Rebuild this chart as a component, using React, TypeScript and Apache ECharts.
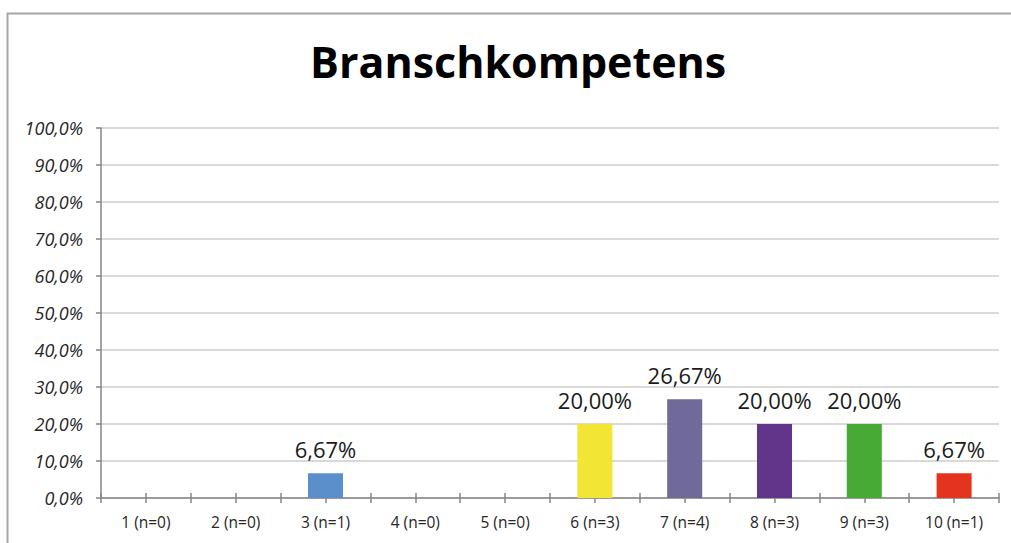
import React, { useEffect, useRef } from "react";
import * as echarts from "echarts";

const categories = ["1 (n=0)", "2 (n=0)", "3 (n=1)", "4 (n=0)", "5 (n=0)", "6 (n=3)", "7 (n=4)", "8 (n=3)", "9 (n=3)", "10 (n=1)"];
const values = [0, 0, 6.67, 0, 0, 20.0, 26.67, 20.0, 20.0, 6.67];
const barColors = ["#5B8FCB", "#5B8FCB", "#5B8FCB", "#5B8FCB", "#5B8FCB", "#F2E533", "#6F6A98", "#62358A", "#47AA35", "#E5341E"];
const titleText = "Branschkompetens";

const FONT = "Open Sans";

export default function App() {
  const ref = useRef<HTMLDivElement>(null);
  useEffect(() => {
    const chart = echarts.init(ref.current!, undefined, { renderer: "svg" });
    const tickStyle = { color: "#868686", width: 1.5 };
    const hiddenAxis = (extra: any) => ({
      type: "category",
      data: categories,
      position: "bottom",
      axisLine: { show: false },
      axisLabel: { show: false },
      splitLine: { show: false },
      ...extra,
    });
    chart.setOption({
      animation: false,
      backgroundColor: "#ffffff",
      title: {
        text: titleText,
        left: 305,
        top: 35,
        textStyle: { fontFamily: FONT, fontWeight: "bold", fontSize: 43, color: "#000000" },
      },
      graphic: [
        {
          type: "rect",
          shape: { x: 7.5, y: 13.5, width: 1030, height: 560 },
          style: { fill: "none", stroke: "#a6a6a6", lineWidth: 2 },
          silent: true,
        },
      ],
      grid: { left: 101, right: 12, top: 128, bottom: 45, containLabel: false },
      xAxis: [
        {
          type: "category",
          data: categories,
          axisLine: { lineStyle: { color: "#868686", width: 1.5 } },
          axisTick: { show: true, interval: 0, length: 5, lineStyle: tickStyle },
          axisLabel: { interval: 0, margin: 16, fontFamily: FONT, fontSize: 15.5, color: "#262626" },
          splitLine: { show: false },
        },
        hiddenAxis({ axisTick: { show: true, inside: true, interval: 0, length: 5, lineStyle: tickStyle } }),
        hiddenAxis({ axisTick: { show: true, alignWithLabel: true, interval: 0, length: 5, lineStyle: tickStyle } }),
        hiddenAxis({ axisTick: { show: true, alignWithLabel: true, inside: true, interval: 0, length: 5, lineStyle: tickStyle } }),
      ],
      yAxis: {
        type: "value",
        min: 0,
        max: 100,
        interval: 10,
        axisLine: { show: true, lineStyle: { color: "#868686", width: 1.5 } },
        axisTick: { show: true, length: 5, lineStyle: tickStyle },
        axisLabel: {
          margin: 18,
          fontFamily: FONT,
          fontStyle: "italic",
          fontSize: 18,
          color: "#262626",
          formatter: (v: number) => v.toFixed(1).replace(".", ",") + "%",
        },
        splitLine: { lineStyle: { color: "#d9d9d9", width: 2 } },
      },
      series: [
        {
          type: "bar",
          xAxisIndex: 0,
          data: values.map((v, i) => ({ value: v, itemStyle: { color: barColors[i] } })),
          barWidth: "39%",
          label: {
            show: true,
            position: "top",
            distance: 13,
            fontFamily: FONT,
            fontSize: 22,
            color: "#1a1a1a",
            formatter: (p: any) => (p.value > 0 ? p.value.toFixed(2).replace(".", ",") + "%" : ""),
          },
        },
      ],
    });
    return () => chart.dispose();
  }, []);
  return <div ref={ref} style={{ position: "fixed", left: 0, top: 0, width: 1011, height: 543 }} />;
}
